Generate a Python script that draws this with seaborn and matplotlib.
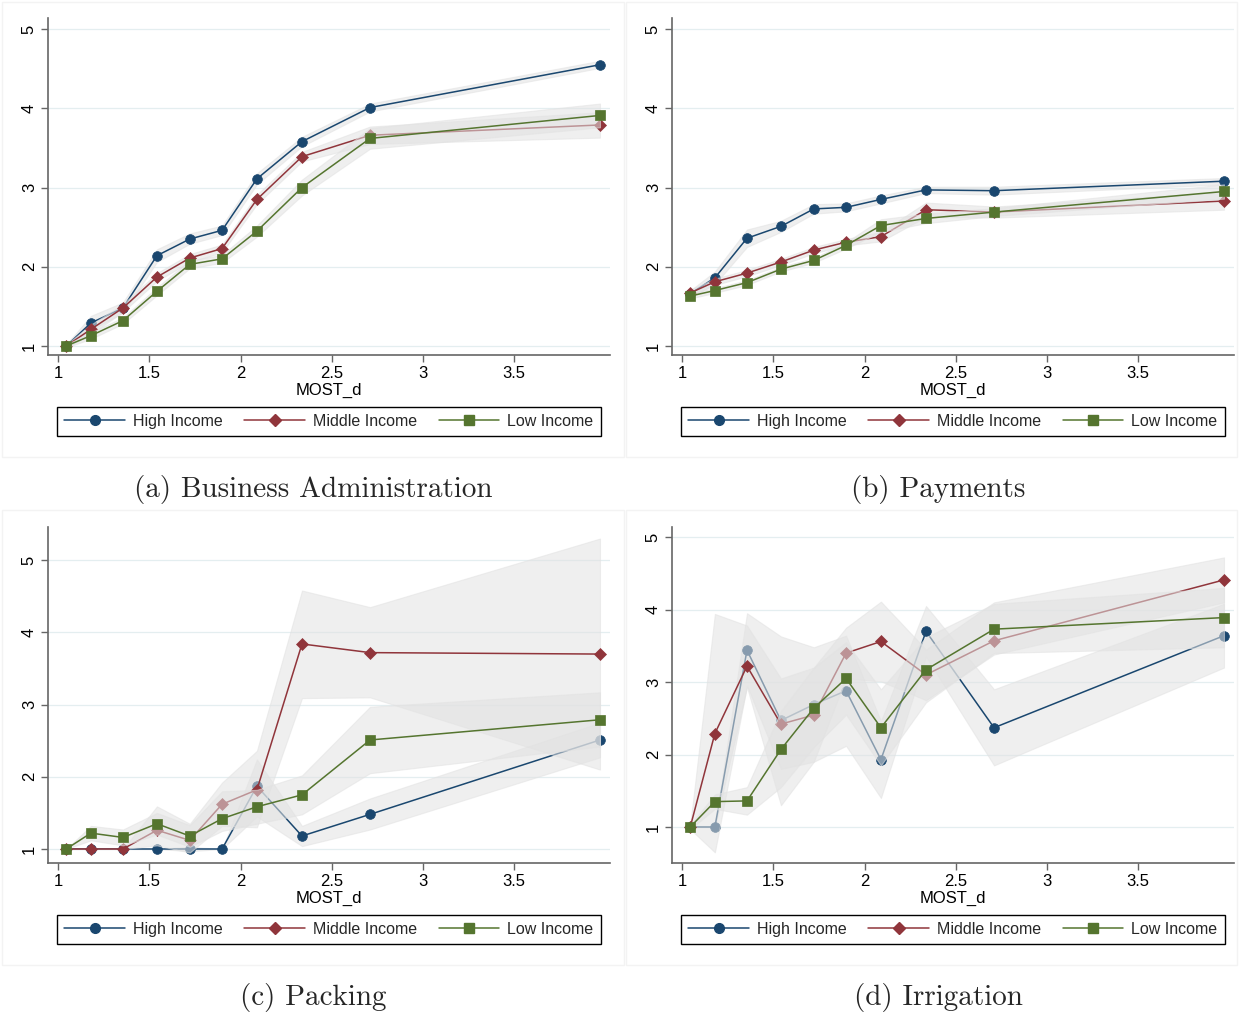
import numpy as np
import pandas as pd
import matplotlib
matplotlib.use("Agg")
import matplotlib.pyplot as plt
from matplotlib.lines import Line2D
from matplotlib.patches import Rectangle
import seaborn as sns

# ---------------- data ----------------
most_d = [1.045, 1.18, 1.356, 1.542, 1.722, 1.899, 2.09, 2.337, 2.71, 3.97]
groups = ["High Income", "Middle Income", "Low Income"]
captions = ["(a) Business Administration", "(b) Payments", "(c) Packing", "(d) Irrigation"]
x_ticks = [1, 1.5, 2, 2.5, 3, 3.5]
y_ticks = [1, 2, 3, 4, 5]

# (a) Business Administration
ba_high = [1.00, 1.29, 1.48, 2.14, 2.35, 2.46, 3.11, 3.58, 4.01, 4.55]
ba_high_lo = [0.98, 1.20, 1.42, 2.06, 2.29, 2.40, 3.04, 3.52, 3.96, 4.51]
ba_high_hi = [1.02, 1.38, 1.55, 2.22, 2.42, 2.52, 3.18, 3.64, 4.06, 4.60]
ba_mid = [1.00, 1.21, 1.48, 1.87, 2.11, 2.23, 2.85, 3.39, 3.66, 3.79]
ba_mid_lo = [0.98, 1.15, 1.43, 1.82, 2.06, 2.18, 2.79, 3.33, 3.55, 3.63]
ba_mid_hi = [1.02, 1.27, 1.53, 1.92, 2.16, 2.28, 2.91, 3.45, 3.77, 3.95]
ba_low = [1.00, 1.13, 1.32, 1.69, 2.03, 2.10, 2.45, 3.00, 3.62, 3.91]
ba_low_lo = [0.98, 1.09, 1.28, 1.64, 1.98, 2.05, 2.38, 2.90, 3.49, 3.76]
ba_low_hi = [1.02, 1.17, 1.36, 1.74, 2.08, 2.15, 2.52, 3.10, 3.75, 4.06]

# (b) Payments
pay_high = [1.66, 1.86, 2.36, 2.51, 2.73, 2.75, 2.85, 2.97, 2.96, 3.08]
pay_high_lo = [1.62, 1.78, 2.25, 2.44, 2.67, 2.70, 2.80, 2.93, 2.91, 3.04]
pay_high_hi = [1.70, 1.94, 2.47, 2.58, 2.79, 2.80, 2.90, 3.01, 3.01, 3.12]
pay_mid = [1.67, 1.81, 1.92, 2.06, 2.21, 2.31, 2.38, 2.72, 2.69, 2.83]
pay_mid_lo = [1.63, 1.77, 1.88, 2.02, 2.17, 2.27, 2.32, 2.63, 2.62, 2.72]
pay_mid_hi = [1.71, 1.85, 1.96, 2.10, 2.25, 2.35, 2.44, 2.81, 2.76, 2.94]
pay_low = [1.63, 1.70, 1.80, 1.97, 2.08, 2.27, 2.52, 2.61, 2.69, 2.95]
pay_low_lo = [1.60, 1.67, 1.77, 1.94, 2.05, 2.23, 2.44, 2.55, 2.64, 2.86]
pay_low_hi = [1.66, 1.73, 1.83, 2.00, 2.11, 2.31, 2.60, 2.67, 2.74, 3.04]

# (c) Packing
pack_high = [1.00, 1.00, 1.00, 1.00, 1.00, 1.00, 1.87, 1.18, 1.48, 2.51]
pack_high_lo = [1.00, 1.00, 1.00, 1.00, 0.97, 1.00, 1.45, 1.04, 1.27, 2.27]
pack_high_hi = [1.00, 1.00, 1.00, 1.00, 1.03, 1.00, 2.24, 1.32, 1.70, 2.75]
pack_mid = [1.00, 1.00, 1.00, 1.26, 1.12, 1.62, 1.82, 3.84, 3.72, 3.70]
pack_mid_lo = [1.00, 1.00, 1.00, 1.05, 0.95, 1.32, 1.30, 3.09, 3.10, 2.10]
pack_mid_hi = [1.00, 1.00, 1.00, 1.59, 1.35, 1.92, 2.36, 4.58, 4.35, 5.30]
pack_low = [1.00, 1.22, 1.16, 1.35, 1.18, 1.42, 1.585, 1.75, 2.51, 2.79]
pack_low_lo = [1.00, 1.12, 1.05, 1.20, 1.03, 1.25, 1.35, 1.48, 2.05, 2.42]
pack_low_hi = [1.00, 1.32, 1.27, 1.50, 1.33, 1.80, 1.82, 2.02, 2.97, 3.17]

# (d) Irrigation
irr_high = [1.00, 1.00, 3.44, 2.47, 2.69, 2.88, 1.93, 3.70, 2.37, 3.64]
irr_high_lo = [1.00, 1.00, 2.93, 1.30, 1.90, 2.12, 1.40, 3.35, 1.85, 3.20]
irr_high_hi = [1.00, 1.00, 3.95, 3.63, 3.48, 3.64, 2.46, 4.05, 2.90, 4.08]
irr_mid = [1.00, 2.29, 3.22, 2.42, 2.545, 3.40, 3.56, 3.10, 3.57, 4.41]
irr_mid_lo = [0.97, 0.65, 2.95, 1.80, 1.90, 3.05, 3.01, 2.75, 3.38, 4.10]
irr_mid_hi = [1.03, 3.94, 3.78, 3.05, 3.20, 3.75, 4.11, 3.45, 4.10, 4.72]
irr_low = [1.00, 1.35, 1.36, 2.07, 2.64, 3.05, 2.37, 3.17, 3.73, 3.89]
irr_low_lo = [0.97, 1.25, 1.17, 1.55, 2.10, 2.55, 1.85, 2.72, 3.40, 3.48]
irr_low_hi = [1.03, 1.45, 1.55, 2.60, 3.20, 3.55, 2.90, 3.62, 4.08, 4.30]

panels = [
    [(ba_high, ba_high_lo, ba_high_hi), (ba_mid, ba_mid_lo, ba_mid_hi), (ba_low, ba_low_lo, ba_low_hi)],
    [(pay_high, pay_high_lo, pay_high_hi), (pay_mid, pay_mid_lo, pay_mid_hi), (pay_low, pay_low_lo, pay_low_hi)],
    [(pack_high, pack_high_lo, pack_high_hi), (pack_mid, pack_mid_lo, pack_mid_hi), (pack_low, pack_low_lo, pack_low_hi)],
    [(irr_high, irr_high_lo, irr_high_hi), (irr_mid, irr_mid_lo, irr_mid_hi), (irr_low, irr_low_lo, irr_low_hi)],
]

# ---------------- style ----------------
sns.set_theme(style="ticks")
plt.rcParams["font.family"] = ["Liberation Sans", "DejaVu Sans"]

colors = ["#1a476f", "#90353b", "#55752f"]
markers = ["o", "D", "s"]
msizes = [7, 6.2, 7]
band_color = "#e2e2e2"
band_alpha = 0.55
axis_color = "#666666"
grid_color = "#e4eef0"

W, H = 1239, 1015
fig = plt.figure(figsize=(W / 100, H / 100), dpi=100)
fig.patch.set_facecolor("white")

# panel geometry in pixels: (left, right, top, bottom) of plot area, y-range
geom = [
    (48, 610, 18, 355, (0.886, 5.14)),
    (672, 1234, 18, 355, (0.886, 5.14)),
    (48, 610, 527, 863, (0.806, 5.46)),
    (672, 1234, 527, 863, (0.503, 5.14)),
]
legend_centers = [(329, 421.5), (953, 421.5), (329, 929.5), (953, 929.5)]
caption_centers = [(313, 489), (938, 489), (313, 998), (938, 998)]
region_boxes = [(2, 2, 624, 457), (626, 2, 1237, 457), (2, 510, 624, 965), (626, 510, 1237, 965)]

for (x0, y0, x1, y1) in region_boxes:
    fig.patches.append(Rectangle((x0 / W, 1 - y1 / H), (x1 - x0) / W, (y1 - y0) / H,
                                 transform=fig.transFigure, fill=False,
                                 edgecolor="#f3f3f3", linewidth=1.0, zorder=0))

for k, (series, (l, r, t, b, ylim)) in enumerate(zip(panels, geom)):
    ax = fig.add_axes([l / W, 1 - b / H, (r - l) / W, (b - t) / H])
    ax.set_facecolor("white")
    for i, (mean, lo, hi) in enumerate(series):
        base_z = 2 + 2 * i
        ax.fill_between(most_d, lo, hi, color=band_color, alpha=band_alpha,
                        linewidth=0.8, edgecolor=band_color, zorder=base_z)
        df = pd.DataFrame({"MOST_d": most_d, "value": mean})
        sns.lineplot(data=df, x="MOST_d", y="value", ax=ax, color=colors[i],
                     marker=markers[i], markersize=msizes[i], markeredgecolor=colors[i],
                     markeredgewidth=0.5, linewidth=1.1, zorder=base_z + 1, legend=False)
    ax.set_xlim(0.945, 4.025)
    ax.set_ylim(*ylim)
    ax.set_xticks(x_ticks)
    ax.set_xticklabels([f"{v:g}" for v in x_ticks])
    ax.set_yticks(y_ticks)
    ax.set_yticklabels([str(v) for v in y_ticks])
    for yv in y_ticks:
        ax.axhline(yv, color=grid_color, linewidth=0.9, zorder=1)
    ax.set_xlabel("MOST_d", fontsize=12, labelpad=1.5, color="black")
    ax.set_ylabel("")
    for s in ["top", "right"]:
        ax.spines[s].set_visible(False)
    for s in ["left", "bottom"]:
        ax.spines[s].set_color(axis_color)
        ax.spines[s].set_linewidth(1.2)
    ax.tick_params(axis="both", direction="out", length=5, width=1.0, color=axis_color,
                   labelsize=12, labelcolor="black", pad=3)
    ax.tick_params(axis="y", labelrotation=90)
    for lbl in ax.get_yticklabels():
        lbl.set_va("center")

    handles = [Line2D([0], [0], color=colors[i], marker=markers[i], markersize=msizes[i],
                      markeredgecolor=colors[i], linewidth=1.1) for i in range(3)]
    cx, cy = legend_centers[k]
    leg = fig.legend(handles, groups, loc="center", bbox_to_anchor=(cx / W, 1 - cy / H),
                     ncol=3, fontsize=11.5, frameon=True, fancybox=False, edgecolor="black",
                     framealpha=1, handlelength=3.8, handletextpad=0.5, columnspacing=1.35,
                     borderpad=0.45, numpoints=1)
    leg.get_frame().set_linewidth(1.0)

    tx, ty = caption_centers[k]
    fig.text(tx / W, 1 - ty / H, captions[k], ha="center", va="center",
             fontsize=21, family="cmr10")

fig.savefig("out.png", dpi=100, facecolor="white")
